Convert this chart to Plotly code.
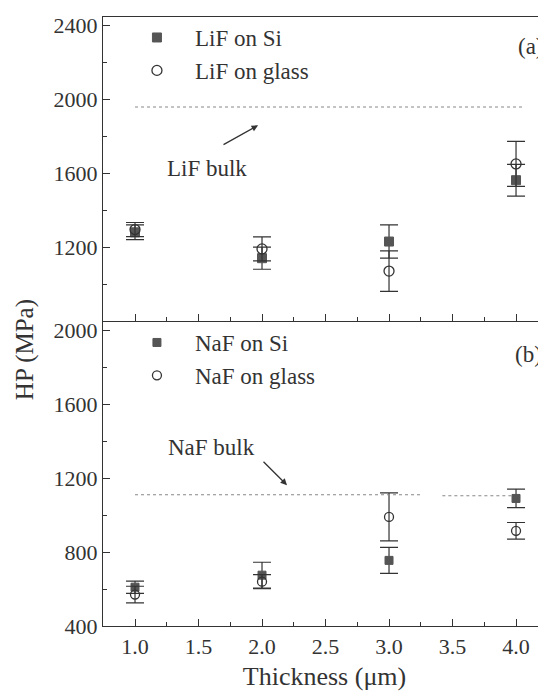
import plotly.graph_objects as go

# ---- data ----
thickness = [1.0, 2.0, 3.0, 4.0]

lif_si = [1280, 1140, 1230, 1562]
lif_si_err = [40, 60, 90, 86]
lif_glass = [1295, 1190, 1070, 1650]
lif_glass_err = [38, 65, 110, 122]

naf_si = [610, 675, 755, 1090]
naf_si_err = [33, 70, 70, 50]
naf_glass = [570, 640, 990, 915]
naf_glass_err = [45, 38, 130, 45]

lif_bulk_x = [1.0, 4.05]
lif_bulk_y = [1958, 1958]
naf_bulk_x = [1.0, 3.25, None, 3.42, 3.98]
naf_bulk_y = [1110, 1110, None, 1105, 1105]

x_ticks = [1.0, 1.5, 2.0, 2.5, 3.0, 3.5, 4.0]
top_yticks = [1200, 1600, 2000, 2400]
bot_yticks = [400, 800, 1200, 1600, 2000]

FONT = "Liberation Serif"
INK = "#333333"
FILL = "#555555"

fig = go.Figure()

def err(vals, color):
    return dict(type="data", array=vals, visible=True, color=color,
                thickness=1.2, width=9)

# top panel (LiF)
fig.add_trace(go.Scatter(x=thickness, y=lif_si, mode="markers", name="LiF on Si",
                         xaxis="x2", yaxis="y2", legend="legend",
                         marker=dict(symbol="square", size=9, color=FILL,
                                     line=dict(color=FILL, width=1)),
                         error_y=err(lif_si_err, INK)))
fig.add_trace(go.Scatter(x=thickness, y=lif_glass, mode="markers", name="LiF on glass",
                         xaxis="x2", yaxis="y2", legend="legend",
                         marker=dict(symbol="circle-open", size=10, color=INK,
                                     line=dict(color=INK, width=1.3)),
                         error_y=err(lif_glass_err, INK)))
fig.add_trace(go.Scatter(x=lif_bulk_x, y=lif_bulk_y, mode="lines", showlegend=False,
                         xaxis="x2", yaxis="y2",
                         line=dict(color="#888888", width=1.1, dash="dot")))

# bottom panel (NaF)
fig.add_trace(go.Scatter(x=thickness, y=naf_si, mode="markers", name="NaF on Si",
                         xaxis="x", yaxis="y", legend="legend2",
                         marker=dict(symbol="square", size=8, color=FILL,
                                     line=dict(color=FILL, width=1)),
                         error_y=err(naf_si_err, INK)))
fig.add_trace(go.Scatter(x=thickness, y=naf_glass, mode="markers", name="NaF on glass",
                         xaxis="x", yaxis="y", legend="legend2",
                         marker=dict(symbol="circle-open", size=9, color=INK,
                                     line=dict(color=INK, width=1.3)),
                         error_y=err(naf_glass_err, INK)))
fig.add_trace(go.Scatter(x=naf_bulk_x, y=naf_bulk_y, mode="lines", showlegend=False,
                         xaxis="x", yaxis="y", connectgaps=False,
                         line=dict(color="#888888", width=1.1, dash="dot")))

split = 0.5008
xcommon = dict(range=[0.748, 4.236], showline=True, linecolor=INK, linewidth=1.2,
               ticks="inside", ticklen=7, tickcolor=INK, tickwidth=1,
               tickvals=x_ticks, tickformat=".1f", showgrid=False, zeroline=False,
               automargin=False,
               minor=dict(dtick=0.25, ticks="inside", ticklen=4, tickcolor=INK, tickwidth=1),
               tickfont=dict(family=FONT, size=22, color=INK))
ycommon = dict(showline=True, linecolor=INK, linewidth=1.2,
               ticks="inside", ticklen=7, tickcolor=INK, tickwidth=1,
               showgrid=False, zeroline=False, automargin=False,
               minor=dict(dtick=200, ticks="inside", ticklen=4, tickcolor=INK, tickwidth=1),
               tickfont=dict(family=FONT, size=22, color=INK))

# page body adds an 8px offset; size the figure so the plot area sits where the reference has it
fig.update_layout(
    width=538, height=689,
    margin=dict(l=95, r=0, t=9, b=71),
    paper_bgcolor="white", plot_bgcolor="white",
    font=dict(family=FONT, color=INK),
    xaxis=dict(**xcommon, anchor="y", domain=[0, 1],
               title=dict(text="Thickness (μm)", font=dict(family=FONT, size=26, color=INK),
                          standoff=9)),
    yaxis=dict(**ycommon, domain=[0, split], range=[400, 2050], tickvals=bot_yticks),
    xaxis2=dict(**xcommon, anchor="y2", domain=[0, 1], showticklabels=False, mirror=True),
    yaxis2=dict(**ycommon, domain=[split, 1], range=[800, 2445], tickvals=top_yticks),
    legend=dict(x=0.036, y=1.0016, xanchor="left", yanchor="top", bgcolor="rgba(0,0,0,0)",
                font=dict(family=FONT, size=23, color=INK), itemwidth=66,
                tracegroupgap=0),
    legend2=dict(x=0.036, y=split, xanchor="left", yanchor="top",
                 bgcolor="rgba(0,0,0,0)",
                 font=dict(family=FONT, size=23, color=INK), itemwidth=66),
    showlegend=True,
)

ann_font = dict(family=FONT, size=23, color=INK)
fig.add_annotation(text="HP (MPa)", xref="paper", yref="paper", x=-0.176, y=0.453,
                   xanchor="center", yanchor="middle",
                   textangle=-90, showarrow=False, font=dict(family=FONT, size=25, color=INK))
fig.add_annotation(text="(a)", xref="x2", yref="y2", x=4.12, y=2285, showarrow=False, font=ann_font)
fig.add_annotation(text="(b)", xref="x", yref="y", x=4.10, y=1870, showarrow=False, font=ann_font)

fig.add_annotation(text="LiF bulk", xref="x2", yref="y2", x=1.567, y=1626, showarrow=False, font=ann_font)
fig.add_annotation(text="", xref="x2", yref="y2", x=1.969, y=1859, axref="x2", ayref="y2",
                   ax=1.685, ay=1750, showarrow=True, arrowhead=2, arrowsize=1,
                   arrowwidth=1.3, arrowcolor=INK)
fig.add_annotation(text="NaF bulk", xref="x", yref="y", x=1.606, y=1368, showarrow=False, font=ann_font)
fig.add_annotation(text="", xref="x", yref="y", x=2.197, y=1162, axref="x", ayref="y",
                   ax=2.0, ay=1297, showarrow=True, arrowhead=2, arrowsize=1,
                   arrowwidth=1.3, arrowcolor=INK)

fig.write_html("out.html")
